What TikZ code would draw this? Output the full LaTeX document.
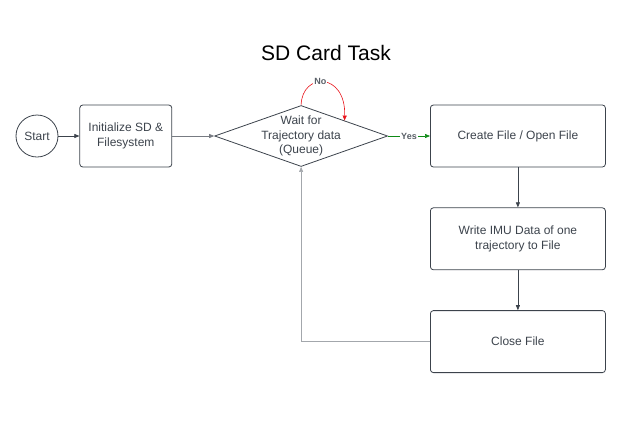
\documentclass[tikz,border=0pt]{standalone}
\usepackage{fontspec}
\setmainfont{Liberation Sans}
\usepackage{xcolor}
\usetikzlibrary{shapes.geometric,arrows.meta,positioning,calc}
\definecolor{linegray}{HTML}{3C434C}
\definecolor{backgray}{HTML}{A3A7AC}
\definecolor{nored}{HTML}{E8141B}
\definecolor{yesgreen}{HTML}{0E8A16}

\begin{document}
\begin{tikzpicture}[x=1pt, y=1pt,
        node distance=40pt and 21pt,
        task/.style={rectangle, rounded corners=3pt, draw=linegray, line width=0.8pt,
                     minimum width=175pt, minimum height=62pt, align=center,
                     font=\fontsize{12}{14.5}\selectfont, text=linegray},
        decide/.style={diamond, draw=linegray, line width=0.8pt, inner sep=0pt,
                       minimum width=173pt, minimum height=61pt},
        arrow/.style={-{Triangle[length=5pt, width=4pt]}, line width=0.6pt, linegray},
        lbl/.style={fill=white, inner sep=1pt, font=\fontsize{9}{10}\selectfont\bfseries, text=linegray!85}
    ]
        \useasboundingbox (0,0) rectangle (631,-421);

        \node[text=black, font=\fontsize{21}{24}\selectfont] (title) at (326,-53) {SD Card Task};

        \node[circle, draw=linegray, line width=0.8pt, minimum size=42pt, inner sep=0pt,
              font=\fontsize{12}{14.5}\selectfont, text=linegray] (start) at (37,-136) {Start};
        \node[task, right=of start, minimum width=92pt] (init) {Initialize SD \&\\Filesystem};
        \node[decide, right=42pt of init,
              label={[align=center, font=\fontsize{12}{14.5}\selectfont, text=linegray]center:Wait for\\Trajectory data\\(Queue)}] (wait) {};
        \node[task, right=42pt of wait] (create) {Create File / Open File};
        \node[task, below=of create] (write) {Write IMU Data of one\\trajectory to File};
        \node[task, below=of write] (close) {Close File};

        \draw[arrow] (start) -- (init);
        \draw[arrow, linegray!70] (init) -- (wait);
        \draw[arrow, nored] (wait.north) .. controls (302,-72) and (346,-72) .. ($(wait.north)!0.5!(wait.east)$)
            node[pos=0.45, lbl] {No};
        \draw[arrow, yesgreen] (wait.east) -- node[lbl] {Yes} (create.west);
        \draw[arrow] (create) -- (write);
        \draw[arrow] (write) -- (close);
        \draw[arrow, backgray] (close.west) -| (wait.south);
    \end{tikzpicture}
\end{document}
